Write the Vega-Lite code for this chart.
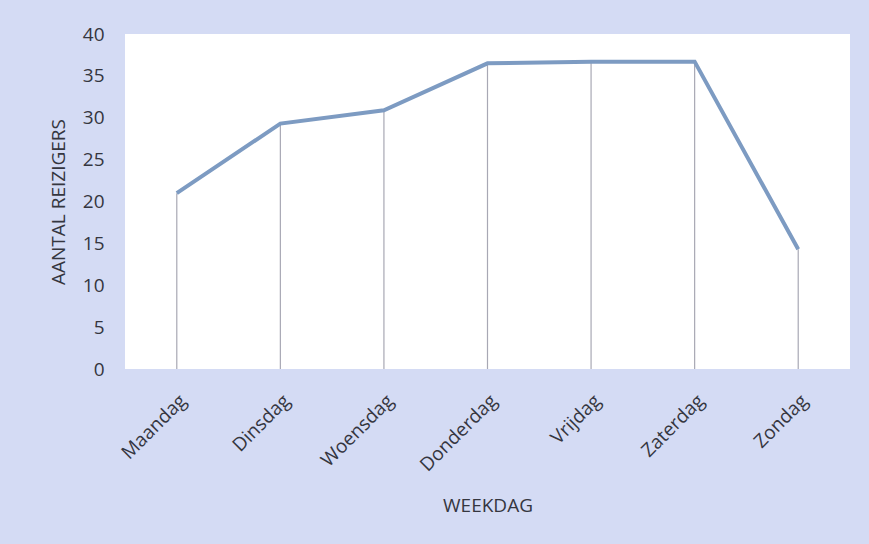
{
  "$schema": "https://vega.github.io/schema/vega-lite/v6.json",
  "width": 725,
  "height": 335,
  "autosize": "none",
  "padding": {"left": 125, "top": 34, "right": 19, "bottom": 175},
  "background": "#d4dbf4",
  "config": {
    "view": {"fill": "white", "stroke": null},
    "font": "Open Sans",
    "axis": {"labelColor": "#35363f", "titleColor": "#35363f", "labelFont": "Open Sans", "titleFont": "Open Sans", "titleFontWeight": "normal"}
  },
  "data": {
    "values": [
      {"dag": "Maandag", "reizigers": 21},
      {"dag": "Dinsdag", "reizigers": 29.3},
      {"dag": "Woensdag", "reizigers": 30.9},
      {"dag": "Donderdag", "reizigers": 36.5},
      {"dag": "Vrijdag", "reizigers": 36.7},
      {"dag": "Zaterdag", "reizigers": 36.7},
      {"dag": "Zondag", "reizigers": 14.3}
    ]
  },
  "encoding": {
    "x": {
      "field": "dag", "type": "nominal", "sort": null,
      "scale": {"type": "band", "paddingInner": 0, "paddingOuter": 0},
      "axis": {"title": "WEEKDAG", "titleFontSize": 19, "titlePadding": 22, "labelAngle": -45, "labelFontSize": 19, "ticks": false, "domain": false, "grid": false, "labelPadding": 22, "labelOverlap": false}
    },
    "y": {
      "field": "reizigers", "type": "quantitative",
      "scale": {"domain": [0, 40], "nice": false},
      "axis": {"title": "AANTAL REIZIGERS", "titleFontSize": 19, "titlePadding": 14, "labelFontSize": 19, "ticks": false, "domain": false, "grid": false, "values": [0,5,10,15,20,25,30,35,40], "labelPadding": 21, "labelOverlap": false}
    }
  },
  "layer": [
    {"mark": {"type": "rule", "color": "#a8a8b4", "strokeWidth": 1.2}, "encoding": {"y2": {"datum": 0}}},
    {"mark": {"type": "line", "color": "#7d9bc2", "strokeWidth": 4}}
  ]
}
